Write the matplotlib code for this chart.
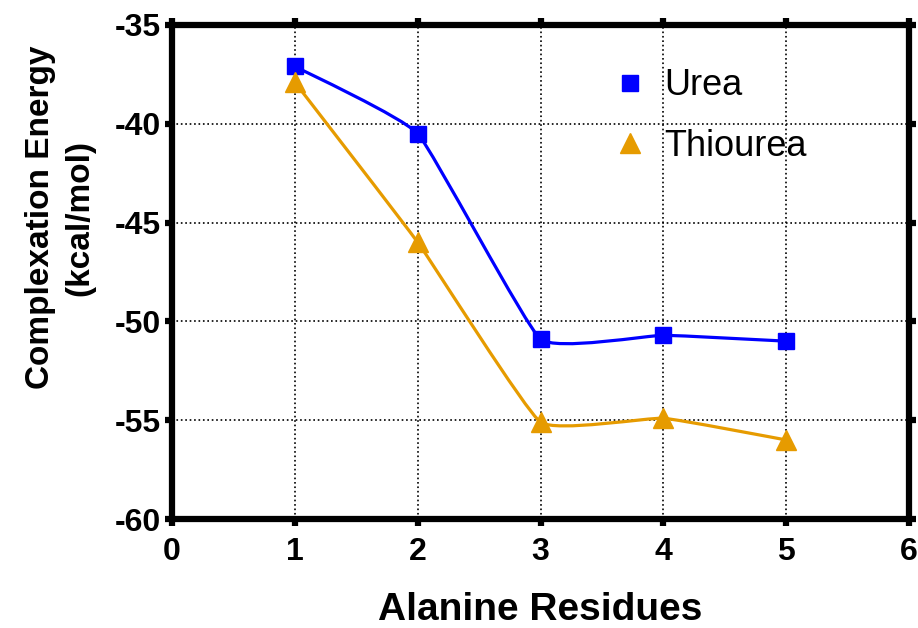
import numpy as np
import matplotlib.pyplot as plt
from matplotlib.path import Path
from matplotlib.patches import PathPatch

plt.rcParams['font.family'] = ['Liberation Sans', 'DejaVu Sans']
plt.rcParams['axes.unicode_minus'] = False

residues = [1, 2, 3, 4, 5]
urea = [-37.1, -40.5, -50.9, -50.7, -51.0]
thiourea = [-37.9, -46.0, -55.1, -54.9, -56.0]

BLUE = '#0000FF'
ORANGE = '#E69B00'


def smooth_path(x, y, t=0.06):
    # bezier through the points, low tension so segments stay almost straight
    x = np.asarray(x, float)
    y = np.asarray(y, float)
    verts = [(x[0], y[0])]
    codes = [Path.MOVETO]
    n = len(x)
    for i in range(n - 1):
        p0 = max(i - 1, 0)
        p3 = min(i + 2, n - 1)
        c1 = (x[i] + t * (x[i + 1] - x[p0]), y[i] + t * (y[i + 1] - y[p0]))
        c2 = (x[i + 1] - t * (x[p3] - x[i]), y[i + 1] - t * (y[p3] - y[i]))
        verts += [c1, c2, (x[i + 1], y[i + 1])]
        codes += [Path.CURVE4] * 3
    return Path(verts, codes)


fig = plt.figure(figsize=(9.18, 6.28), dpi=100)
ax = fig.add_axes([0.1874, 0.1735, 0.8030, 0.7867])

for ys, col, mk, lab in [(urea, BLUE, 's', 'Urea'),
                         (thiourea, ORANGE, '^', 'Thiourea')]:
    ax.add_patch(PathPatch(smooth_path(residues, ys), facecolor='none',
                           edgecolor=col, lw=2.3, zorder=3))
    ax.plot(residues, ys, linestyle='none', marker=mk, color=col,
            markersize=12 if mk == 's' else 15, label=lab, zorder=4)

ax.set_xlim(0, 6)
ax.set_ylim(-60, -35)
ax.set_xticks(range(0, 7))
ax.set_yticks(range(-60, -34, 5))
ax.grid(True, linestyle=':', color='black', linewidth=1.2)

for s in ax.spines.values():
    s.set_linewidth(4.5)
    s.set_capstyle('round')
ax.tick_params(direction='out', length=5, width=4.5, labelsize=23,
               top=True, right=True, pad=3)
for lbl in ax.get_xticklabels() + ax.get_yticklabels():
    lbl.set_fontweight('bold')
ax.tick_params(axis='x', pad=8)

ax.set_xlabel('Alanine Residues', fontsize=28, fontweight='bold', labelpad=18)
ax.set_ylabel('Complexation Energy\n(kcal/mol)', fontsize=24,
              fontweight='bold', linespacing=1.35)
ax.yaxis.set_label_coords(-0.104, 0.61)

ax.legend(loc='upper left', bbox_to_anchor=(0.555, 0.978), frameon=False,
          fontsize=26, handlelength=0.9, handletextpad=0.5, labelspacing=0.7)

fig.savefig('out.png', dpi=100)
